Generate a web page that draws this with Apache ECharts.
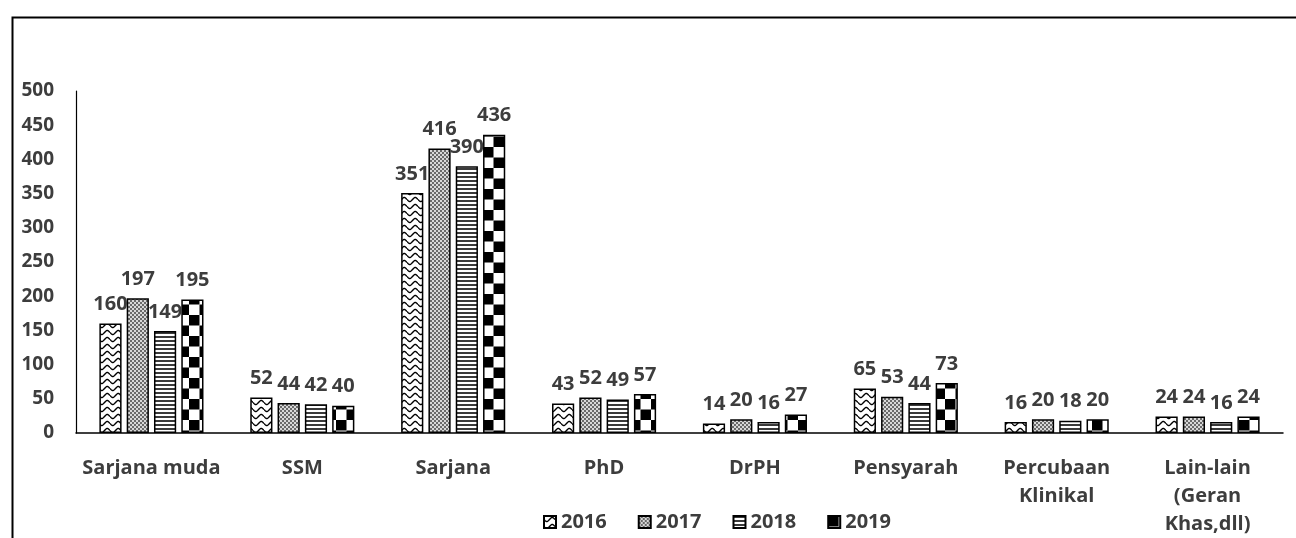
<!DOCTYPE html>
<html>
<head>
<meta charset="utf-8">
<script src="https://cdn.jsdelivr.net/npm/echarts@6/dist/echarts.min.js"></script>
<style>
  html, body { margin: 0; padding: 0; background: #fff; }
  #main { width: 1296px; height: 538px; }
</style>
</head>
<body>
<div id="main"></div>
<script>
// data
const categories = ['Sarjana muda', 'SSM', 'Sarjana', 'PhD', 'DrPH', 'Pensyarah', 'Percubaan\nKlinikal', 'Lain-lain\n(Geran\nKhas,dll)'];
const years = ['2016', '2017', '2018', '2019'];
const data2016 = [160, 52, 351, 43, 14, 65, 16, 24];
const data2017 = [197, 44, 416, 52, 20, 53, 20, 24];
const data2018 = [149, 42, 390, 49, 16, 44, 18, 16];
const data2019 = [195, 40, 436, 57, 27, 73, 20, 24];
const yTicks = [0, 50, 100, 150, 200, 250, 300, 350, 400, 450, 500];

const textColor = '#3d3d3d';
const font = '"Open Sans", sans-serif';

// fill patterns, like the excel pattern fills
function makeTile(w, h, draw) {
  const c = document.createElement('canvas');
  c.width = w; c.height = h;
  const ctx = c.getContext('2d');
  ctx.fillStyle = '#fff';
  ctx.fillRect(0, 0, w, h);
  draw(ctx, w, h);
  return c;
}

// wavy lines
const waveTile = makeTile(11, 7, function (ctx, w, h) {
  ctx.strokeStyle = '#000';
  ctx.lineWidth = 1.4;
  ctx.beginPath();
  for (let x = 0; x <= w; x += 0.5) {
    const y = 3.5 + 2 * Math.sin(x / w * Math.PI * 2);
    if (x === 0) ctx.moveTo(x, y); else ctx.lineTo(x, y);
  }
  ctx.stroke();
});

// fine dots
const dotTile = makeTile(4, 4, function (ctx) {
  ctx.fillStyle = '#6a6a6a';
  ctx.fillRect(0, 0, 4, 4);
  ctx.fillStyle = '#d8d8d8';
  ctx.fillRect(0, 0, 2, 2);
  ctx.fillRect(2, 2, 2, 2);
});

// horizontal stripes
const stripeTile = makeTile(4, 4, function (ctx) {
  ctx.fillStyle = '#3a3a3a';
  ctx.fillRect(0, 0, 4, 2);
});

// big checker
const checkTile = makeTile(21, 21, function (ctx) {
  ctx.fillStyle = '#000';
  ctx.fillRect(0, 0, 10.5, 10.5);
  ctx.fillRect(10.5, 10.5, 10.5, 10.5);
});

const patterns = [waveTile, dotTile, stripeTile, checkTile];
const seriesData = [data2016, data2017, data2018, data2019];

const myChart = echarts.init(document.getElementById('main'));

myChart.setOption({
  animation: false,
  backgroundColor: '#fff',
  textStyle: { fontFamily: font },
  graphic: [{
    type: 'rect',
    left: 10,
    top: 15,
    shape: { width: 1300, height: 600 },
    style: { fill: 'none', stroke: '#000', lineWidth: 2 },
    silent: true
  }],
  legend: {
    left: 538,
    top: 507,
    icon: 'rect',
    itemWidth: 12,
    itemHeight: 12,
    itemGap: 31,
    data: years,
    textStyle: { color: textColor, fontSize: 20, fontWeight: 'bold', fontFamily: font }
  },
  grid: {
    left: 76,
    right: 13,
    top: 91,
    bottom: 105,
    outerBoundsMode: 'none'
  },
  xAxis: {
    type: 'category',
    data: categories,
    axisLine: { lineStyle: { color: '#000', width: 1.5 } },
    axisTick: { show: false },
    axisLabel: {
      color: textColor,
      fontSize: 20,
      fontWeight: 'bold',
      fontFamily: font,
      margin: 21,
      lineHeight: 28,
      interval: 0
    }
  },
  yAxis: {
    type: 'value',
    min: yTicks[0],
    max: yTicks[yTicks.length - 1],
    interval: 50,
    axisLine: { show: true, lineStyle: { color: '#000', width: 1.2 } },
    axisTick: { show: false },
    splitLine: { show: false },
    axisLabel: {
      color: textColor,
      fontSize: 19,
      fontWeight: 'bold',
      fontFamily: font,
      margin: 22
    }
  },
  series: years.map(function (y, i) {
    return {
      name: y,
      type: 'bar',
      data: seriesData[i],
      barGap: '23%',
      barCategoryGap: '31%',
      itemStyle: {
        color: { image: patterns[i], repeat: 'repeat' },
        borderColor: '#000',
        borderWidth: 1.5
      },
      label: {
        show: true,
        position: 'top',
        distance: 9,
        color: textColor,
        fontSize: 20,
        fontWeight: 'bold',
        fontFamily: font
      }
    };
  })
});
</script>
</body>
</html>
